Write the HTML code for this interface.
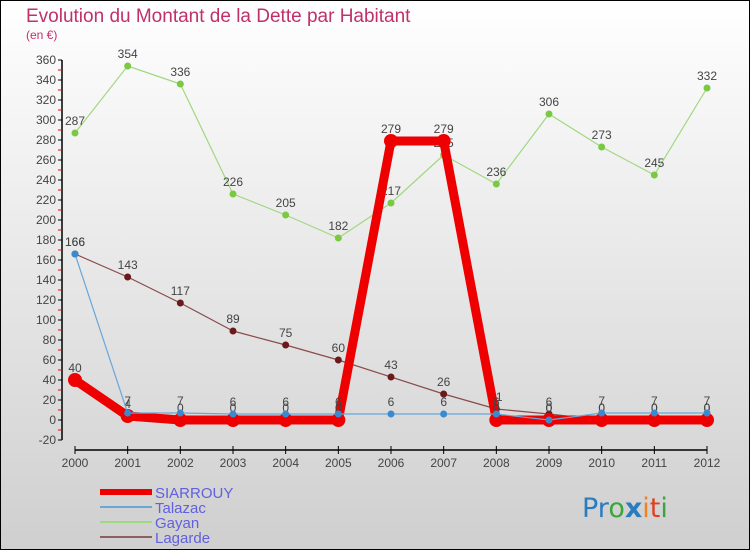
<!DOCTYPE html>
<html><head><meta charset="utf-8"><style>
html,body{margin:0;padding:0}
body{width:750px;height:550px;overflow:hidden;font-family:"Liberation Sans",sans-serif}
</style></head><body>
<svg id="chart" width="750" height="550" xmlns="http://www.w3.org/2000/svg" style="display:block">
<defs><linearGradient id="bg" x1="0" y1="0" x2="0" y2="1"><stop offset="0" stop-color="#ffffff"/><stop offset="1" stop-color="#cfcfcf"/></linearGradient></defs>
<rect x="0.5" y="0.5" width="749" height="549" fill="url(#bg)" stroke="#000"/>
<text x="26" y="22" font-size="19" fill="#c0306a">Evolution du Montant de la Dette par Habitant</text>
<text x="26" y="39" font-size="12" fill="#c0306a">(en €)</text>
<g id="axes"></g><g id="series"></g><g id="legend"></g>
<text x="582" y="517" font-size="27" font-family="DejaVu Sans, sans-serif"><tspan fill="#2a7cc0">Pr</tspan><tspan fill="#3aa63a">o</tspan><tspan fill="#2a7cc0" font-weight="bold">x</tspan><tspan fill="#f08020">i</tspan><tspan fill="#e04020">t</tspan><tspan fill="#3aa63a">i</tspan></text>
</svg>
<script>
const years=[2000,2001,2002,2003,2004,2005,2006,2007,2008,2009,2010,2011,2012];
const yTicks=[-20,0,20,40,60,80,100,120,140,160,180,200,220,240,260,280,300,320,340,360];
const siarrouy=[40,4,0,0,0,0,279,279,0,0,0,0,0];
const talazac=[166,7,7,6,6,6,6,6,6,0,7,7,7];
const gayan=[287,354,336,226,205,182,217,265,236,306,273,245,332];
const lagarde=[166,143,117,89,75,60,43,26,11,6,0,0,0];
const NS="http://www.w3.org/2000/svg";
const x=i=>75+i*(707-75)/(years.length-1);
const y=v=>420-v;
function mk(tag,attrs,parent){const e=document.createElementNS(NS,tag);for(const k in attrs)e.setAttribute(k,attrs[k]);parent.appendChild(e);return e;}
const ax=document.getElementById('axes');
let yl=mk('line',{x1:62,y1:y(360),x2:62,y2:y(-20),stroke:'#000','stroke-width':1.5},ax);


yTicks.forEach(t=>{
 let tk=mk('line',{x1:58,y1:y(t),x2:62,y2:y(t),stroke:'#000'},ax);
 
 
 let mt=mk('line',{x1:58,y1:y(t)+10,x2:62,y2:y(t)+10,stroke:'#e00'},ax);
 if(t===-20)mt.setAttribute('visibility','hidden');
 
 
 let lb=mk('text',{x:56,y:y(t)+4,'text-anchor':'end','font-size':12,fill:'#444'},ax);
 lb.textContent=t;
 
 
});
let xl=mk('line',{x1:75,y1:450,x2:707,y2:450,stroke:'#000','stroke-width':1.5},ax);


years.forEach((yr,i)=>{
 let tk=mk('line',{x1:x(i),y1:446,x2:x(i),y2:454,stroke:'#000'},ax);
 
 
 let lb=mk('text',{x:x(i),y:467,'text-anchor':'middle','font-size':12,fill:'#444'},ax);
 lb.textContent=yr;
 
 
});
const sg=document.getElementById('series');
function drawSeries(vals,color,width,r,name,dot){
 const g=mk('g',{},sg);
 
 
 let pl=mk('polyline',{points:vals.map((v,i)=>x(i)+','+y(v)).join(' '),fill:'none',stroke:color,'stroke-width':width,'stroke-linejoin':'round'},g);
 
 
 vals.forEach((v,i)=>{
  let c=mk('circle',{cx:x(i),cy:y(v),r:r,fill:dot},g);
  
  
  let t=mk('text',{x:x(i),y:y(v)-8,'text-anchor':'middle','font-size':12,fill:'#444'},g);
  t.textContent=v;
  
  
 });
}
drawSeries(gayan,'#a0d880',1.2,3.5,'gayan','#7ac943');
drawSeries(lagarde,'#8a4a4a',1.2,3.5,'lagarde','#6a1a1a');
drawSeries(siarrouy,'#ee0000',9,7,'siarrouy','#ee0000');
drawSeries(talazac,'#6aa6d8',1.2,3.5,'talazac','#3a8ad0');
const lg=document.getElementById('legend');
[['SIARROUY','#ee0000',6],['Talazac','#6aa6d8',2],['Gayan','#a0d880',2],['Lagarde','#8a6060',2]].forEach((e,i)=>{
 const yy=492+i*15;
 let l=mk('line',{x1:100,y1:yy,x2:152,y2:yy,stroke:e[1],'stroke-width':e[2]},lg);
 
 
 let t=mk('text',{x:155,y:yy+6,'font-size':15,fill:'#6060e0'},lg);
 t.textContent=e[0];
 
 
});
</script>
</body></html>
